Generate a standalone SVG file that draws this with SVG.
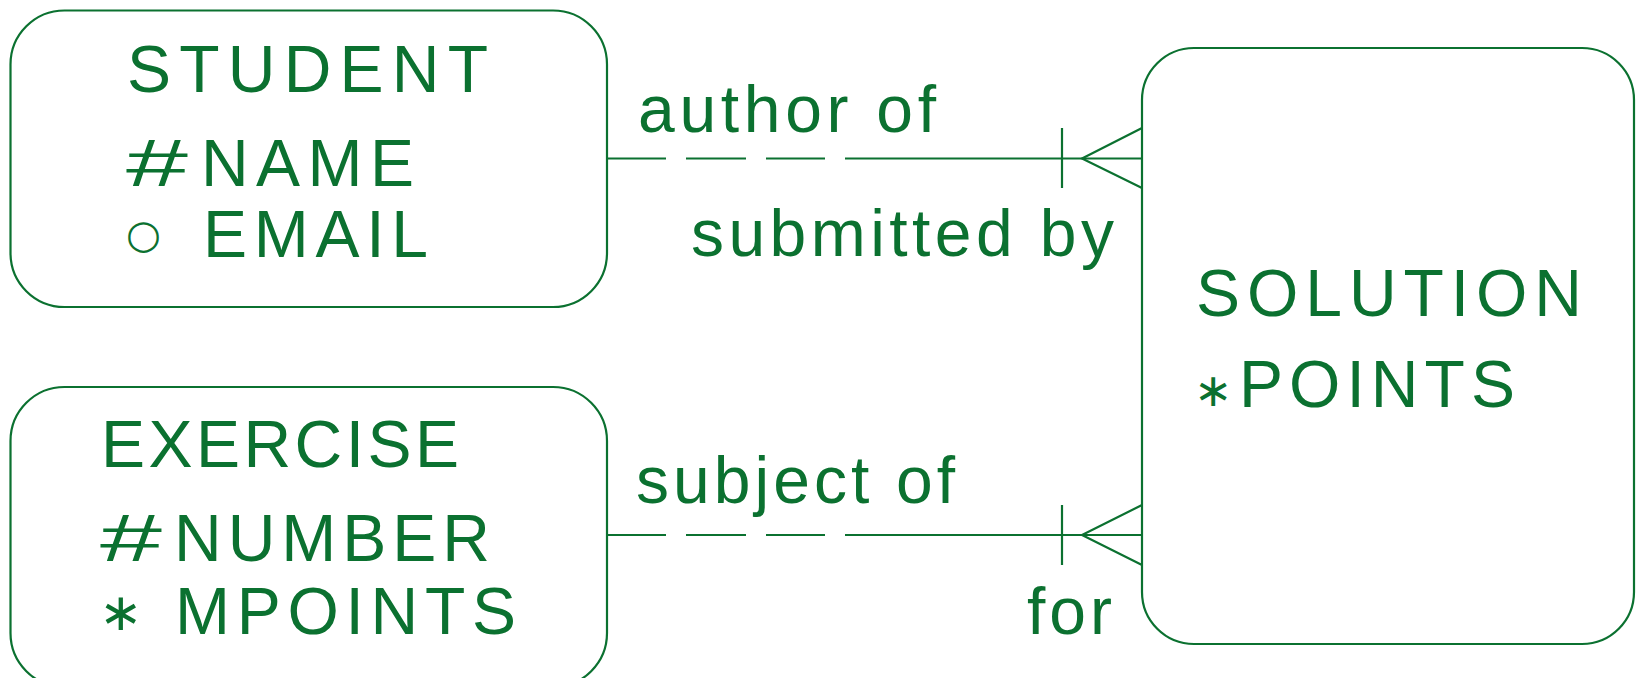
<svg xmlns="http://www.w3.org/2000/svg" width="1636" height="678" viewBox="0 0 1636 678">
<style>
.box{fill:#ffffff;stroke:#0b7130;stroke-width:2.2}
.ln{fill:none;stroke:#0b7130;stroke-width:2.2}
.t{font-family:"Liberation Sans","DejaVu Sans",sans-serif;font-size:66px;fill:#0b7130}
.s{font-family:"DejaVu Sans","Liberation Sans",sans-serif;fill:#0b7130}
</style>
<rect width="1636" height="678" fill="#ffffff"/>
<g id="connectors">
  <g id="author">
    <path class="ln" d="M607,158.5 H666 M686,158.5 H746 M766,158.5 H825 M845,158.5 H1142"/>
    <path class="ln" d="M1062,128 V188"/>
    <path class="ln" d="M1142,128 L1082,158.5 L1142,188"/>
  </g>
  <g id="subject">
    <path class="ln" d="M607,535 H666 M686,535 H746 M766,535 H825 M845,535 H1142"/>
    <path class="ln" d="M1062,505 V565"/>
    <path class="ln" d="M1142,505 L1082,535 L1142,565"/>
  </g>
  <text class="t" x="638" y="132" textLength="298" lengthAdjust="spacing">author of</text>
  <text class="t" x="691" y="256" textLength="423" lengthAdjust="spacing">submitted by</text>
  <text class="t" x="636" y="503" textLength="319" lengthAdjust="spacing">subject of</text>
  <text class="t" x="1027" y="634" textLength="85" lengthAdjust="spacing">for</text>
</g>
<g id="student">
  <rect class="box" x="10.5" y="10.5" width="596.5" height="296.5" rx="54" ry="54"/>
  <text class="t" x="127" y="92" textLength="361" lengthAdjust="spacing">STUDENT</text>
  <text class="t" x="126" y="186" textLength="62" lengthAdjust="spacingAndGlyphs">#</text>
  <text class="t" x="201" y="186" textLength="213" lengthAdjust="spacing">NAME</text>
  <text class="s" x="126" y="248" font-size="40">○</text>
  <text class="t" x="203" y="257" textLength="225" lengthAdjust="spacing">EMAIL</text>
</g>
<g id="exercise">
  <rect class="box" x="10.5" y="387" width="596.5" height="300" rx="54" ry="54"/>
  <text class="t" x="101" y="467" textLength="358" lengthAdjust="spacing">EXERCISE</text>
  <text class="t" x="100" y="561" textLength="62" lengthAdjust="spacingAndGlyphs">#</text>
  <text class="t" x="174" y="561" textLength="316" lengthAdjust="spacing">NUMBER</text>
  <text class="s" x="99" y="630" font-size="52">∗</text>
  <text class="t" x="175" y="634" textLength="341" lengthAdjust="spacing">MPOINTS</text>
</g>
<g id="solution">
  <rect class="box" x="1142" y="48" width="492" height="596" rx="52" ry="52"/>
  <text class="t" x="1196" y="316" textLength="386" lengthAdjust="spacing">SOLUTION</text>
  <text class="s" x="1194" y="406" font-size="46">∗</text>
  <text class="t" x="1239" y="407" textLength="276" lengthAdjust="spacing">POINTS</text>
</g>
</svg>
